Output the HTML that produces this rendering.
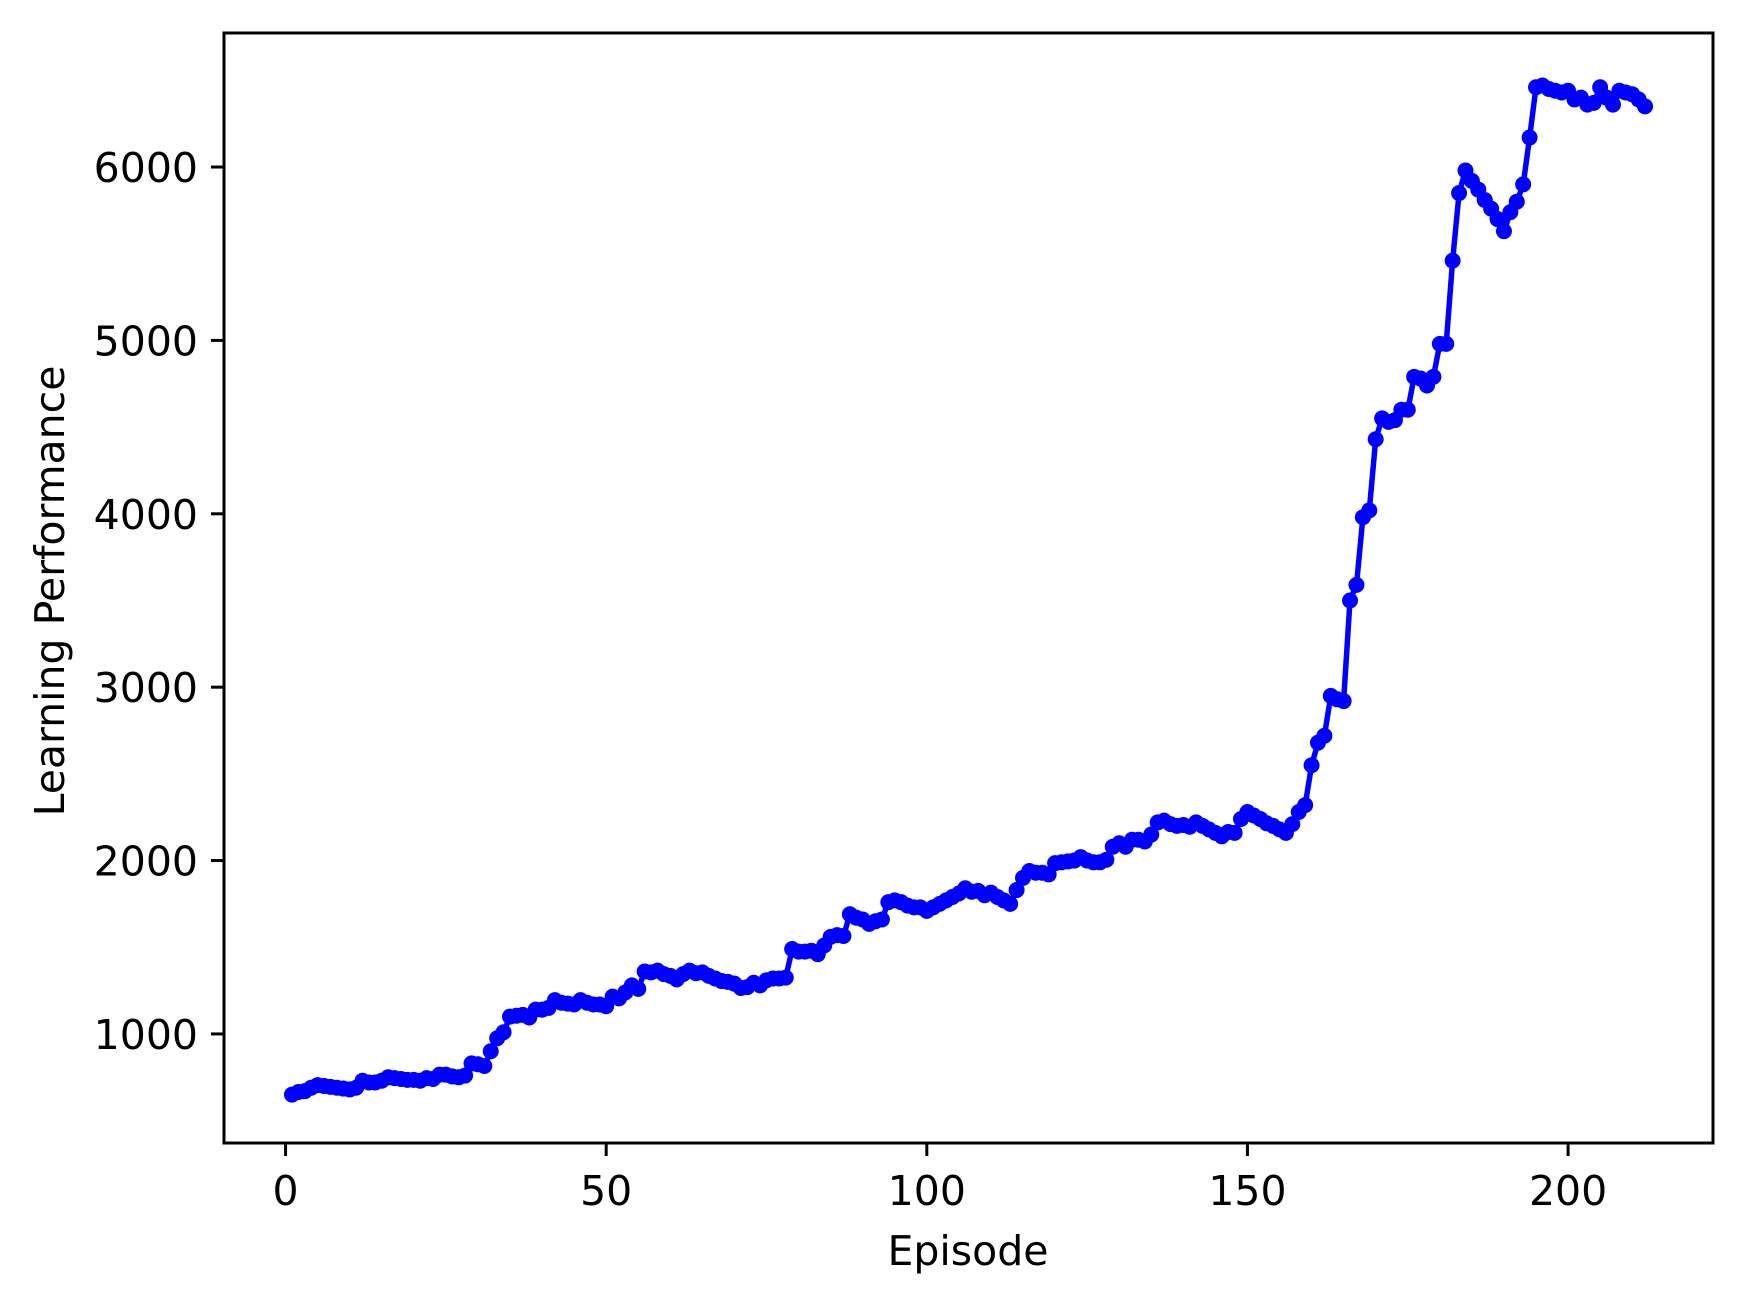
<!DOCTYPE html>
<html><head><meta charset="utf-8"><style>
html,body{margin:0;padding:0;background:#fff;}
svg{display:block;}
text{font-family:"DejaVu Sans","Liberation Sans",sans-serif;fill:#000;}
</style></head><body>
<svg id="chart" width="1745" height="1302" viewBox="0 0 1745 1302" xmlns="http://www.w3.org/2000/svg">
<rect x="0" y="0" width="1745" height="1302" fill="#fff"/>
<g id="plot"></g>
<g id="axes"></g>
</svg>
<script>
const episodes = [];
for (let i = 1; i <= 212; i++) episodes.push(i);
const performance = [
650,665,670,690,705,700,695,690,685,680,690,730,720,720,730,750,745,740,735,735,
730,745,740,765,765,755,750,760,830,825,815,900,975,1010,1100,1105,1110,1095,1140,1140,
1150,1195,1180,1175,1170,1195,1180,1170,1170,1160,1215,1205,1240,1280,1260,1360,1355,1365,1345,1335,
1315,1345,1365,1350,1355,1335,1320,1305,1300,1290,1265,1270,1295,1280,1310,1320,1320,1325,1490,1475,
1475,1480,1460,1510,1560,1570,1565,1690,1670,1660,1635,1650,1660,1760,1770,1760,1740,1730,1730,1710,
1730,1750,1770,1790,1810,1840,1820,1825,1800,1815,1790,1770,1750,1830,1900,1940,1930,1930,1920,1985,
1990,1995,2000,2020,2000,1990,1990,2005,2080,2100,2080,2120,2120,2110,2150,2220,2230,2210,2200,2205,
2195,2220,2200,2180,2160,2140,2165,2160,2240,2280,2260,2240,2215,2200,2180,2160,2210,2280,2320,2550,
2680,2720,2950,2930,2920,3500,3590,3980,4020,4430,4550,4530,4540,4600,4600,4790,4780,4740,4790,4980,
4980,5460,5850,5980,5920,5870,5810,5760,5700,5630,5740,5800,5900,6170,6460,6470,6450,6440,6430,6440,
6390,6400,6360,6370,6460,6400,6360,6440,6430,6420,6390,6350];
const xTicks = [0,50,100,150,200];
const yTicks = [1000,2000,3000,4000,5000,6000];
const xTickLabels = ["0","50","100","150","200"];
const yTickLabels = ["1000","2000","3000","4000","5000","6000"];

const L=224,R=1713,T=33,B=1143;
const xMin=-9.6,xMax=222.6,yMin=371,yMax=6773;
const sx=v=>L+(v-xMin)/(xMax-xMin)*(R-L);
const sy=v=>B-(v-yMin)/(yMax-yMin)*(B-T);
const NS="http://www.w3.org/2000/svg";
const plot=document.getElementById('plot'), axes=document.getElementById('axes');
function mk(tag,attrs,parent){const e=document.createElementNS(NS,tag);for(const k in attrs)e.setAttribute(k,attrs[k]);parent.appendChild(e);return e;}

let d='';
episodes.forEach((ep,i)=>{d+=(i?'L':'M')+sx(ep).toFixed(1)+' '+sy(performance[i]).toFixed(1);});
const line=mk('path',{d:d,fill:'none',stroke:'#0000ff','stroke-width':5.5,'stroke-linejoin':'round'},plot);


episodes.forEach((ep,i)=>{
  const c=mk('circle',{cx:sx(ep),cy:sy(performance[i]),r:8,fill:'#0000ff'},plot);
  
  
});

const frame=mk('rect',{x:L,y:T,width:R-L,height:B-T,fill:'none',stroke:'#000','stroke-width':3},axes);



xTicks.forEach((v,i)=>{
  const x=sx(v);
  const t=mk('line',{x1:x,x2:x,y1:B,y2:B+13,stroke:'#000','stroke-width':3},axes);
  
  
  const lb=mk('text',{x:x,y:1205,'font-size':41,'text-anchor':'middle'},axes);
  lb.textContent=xTickLabels[i];
  
  
});
yTicks.forEach((v,i)=>{
  const y=sy(v);
  const t=mk('line',{x1:L-13,x2:L,y1:y,y2:y,stroke:'#000','stroke-width':3},axes);
  
  
  const lb=mk('text',{x:198,y:y+15,'font-size':41,'text-anchor':'end'},axes);
  lb.textContent=yTickLabels[i];
  
  
});
const xt=mk('text',{x:968,y:1265,'font-size':41,'text-anchor':'middle'},axes);
xt.textContent='Episode';


const yt=mk('text',{x:0,y:0,'font-size':41,'text-anchor':'middle',transform:'translate(64,591) rotate(-90)'},axes);
yt.textContent='Learning Performance';


</script>
</body></html>
